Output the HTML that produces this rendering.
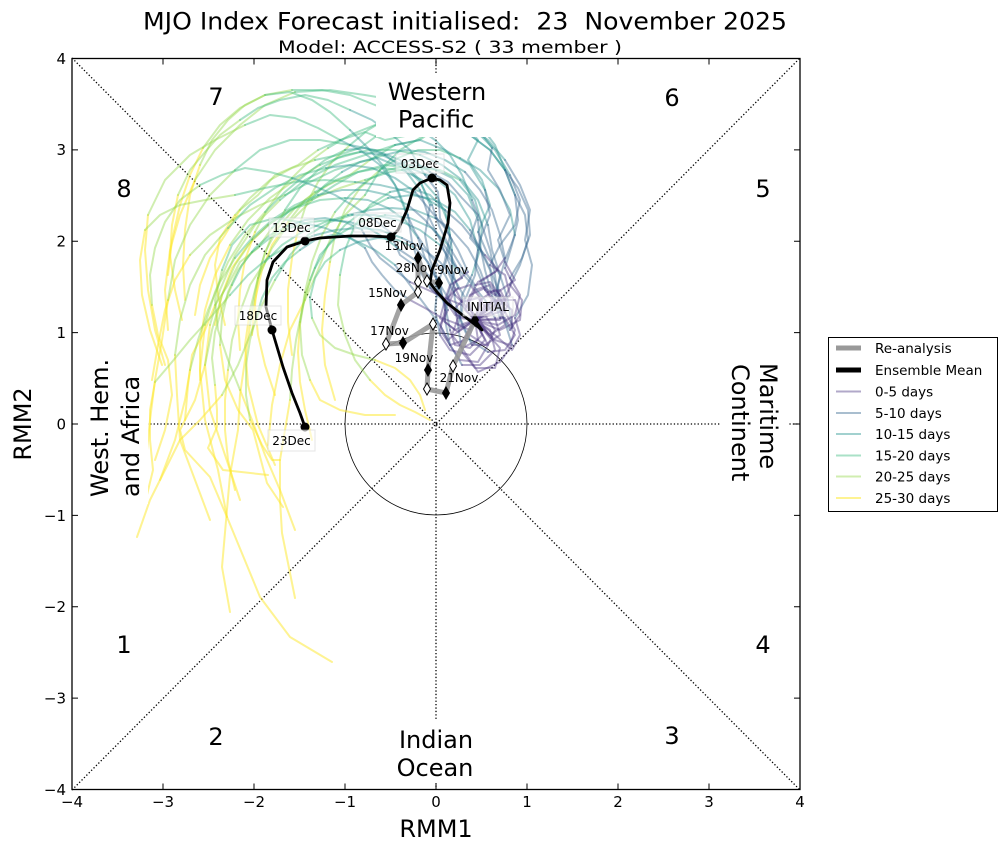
<!DOCTYPE html>
<html><head><meta charset="utf-8"><style>
html,body{margin:0;padding:0;background:#fff;}
svg{display:block;font-family:"DejaVu Sans","Liberation Sans",sans-serif;}
.p polyline,.b polyline,.t polyline,.m polyline,.g polyline,.y polyline{fill:none;stroke-width:2;stroke-opacity:0.42;stroke-linejoin:round;stroke-linecap:round}
.p polyline{stroke:#46307e}
.b polyline{stroke:#31638d}
.t polyline{stroke:#21918c}
.m polyline{stroke:#35b779}
.g polyline{stroke:#90d743}
.y polyline{stroke:#fde725;stroke-opacity:0.5}
.dl{font-size:12px;fill:#000}
.lb{fill:#fff;fill-opacity:0.55;stroke:#ccc;stroke-opacity:0.5;stroke-width:1}
</style></head><body>
<svg width="1006" height="850" viewBox="0 0 1006 850" xmlns="http://www.w3.org/2000/svg">
<rect x="0" y="0" width="1006" height="850" fill="#fff"/>
<!-- titles -->
<text x="465" y="29.5" font-size="24" text-anchor="middle" textLength="644" lengthAdjust="spacingAndGlyphs" style="white-space:pre">MJO Index Forecast initialised:  23  November 2025</text>
<text x="450" y="53" font-size="17" text-anchor="middle" textLength="344" lengthAdjust="spacingAndGlyphs" style="white-space:pre">Model: ACCESS-S2 ( 33 member )</text>

<!-- dotted guides -->
<g stroke="#000" stroke-width="1.3" stroke-dasharray="1.3 2.1" fill="none">
<line x1="72" y1="58" x2="800" y2="790"/>
<line x1="72" y1="790" x2="800" y2="58"/>
<line x1="72" y1="424" x2="800" y2="424"/>
<line x1="436" y1="58" x2="436" y2="790"/>
</g>
<circle cx="436" cy="424" r="91" fill="none" stroke="#000" stroke-width="0.8"/>

<!-- spaghetti -->
<g class="y">
<polyline points="210,325 205,365 210,410 225,455 240,500"/>
<polyline points="168,300 162,340 155,380 150,420 145,470"/>
<polyline points="195,180 180,215 170,250 165,290 168,330"/>
<polyline points="240,390 252,420 265,455 280,490 295,530"/>
<polyline points="305,300 290,330 280,365 272,405 268,445"/>
<polyline points="175,355 177,395 180,440 195,480 210,520"/>
<polyline points="250,310 245,345 248,385 258,425 275,465"/>
<polyline points="190,255 175,280 165,310 158,345 152,380"/>
<polyline points="148,215 145,250 148,290 155,330 165,365"/>
<polyline points="222,395 200,420 180,440 165,470 150,500 137,537"/>
<polyline points="205,325 200,370 205,420 218,470 227,517"/>
<polyline points="330,262 325,295 322,330 325,365 335,400"/>
<polyline points="370,380 385,395 400,405 415,412 430,420"/>
<polyline points="268,225 248,245 232,268 222,295 215,325"/>
<polyline points="200,165 190,195 185,230 183,265 185,300"/>
<polyline points="230,245 215,275 205,310 200,345 200,380"/>
<polyline points="145,230 140,260 142,295 150,330 162,365"/>
<polyline points="290,400 285,430 280,460 280,500 282,533 295,598"/>
<polyline points="205,365 195,400 180,430 185,450 210,477 227,517 260,597 290,637 332,662"/>
<polyline points="250,325 245,360 240,395 238,430 230,475 222,567 230,612"/>
<polyline points="215,385 217,410 217,427 208,448 223,470 268,475"/>
<polyline points="255,232 245,260 240,290 238,320 240,350"/>
<polyline points="220,345 225,380 238,410 253,430 267,483 283,507"/>
<polyline points="300,322 298,352 300,382 305,410 312,440"/>
<polyline points="258,278 255,305 258,335 265,365 275,395"/>
<polyline points="203,148 190,175 180,205 172,240 168,275"/>
<polyline points="190,370 185,400 180,420 175,440 160,480"/>
<polyline points="310,380 320,400 340,410 365,415 395,415"/>
<polyline points="155,382 150,410 150,440 153,470 145,503"/>
<polyline points="298,230 292,258 288,290 288,322 292,355"/>
<polyline points="250,420 255,430 262,445 272,460 280,460"/>
<polyline points="375,360 395,368 410,380 420,395 425,410"/>
<polyline points="228,370 225,400 225,430 228,460 235,490"/>
<polyline points="240,210 225,235 210,258 200,285 195,315"/>
<polyline points="288,222 272,245 262,270 255,300 252,335"/>
<polyline points="152,305 158,335 168,360 172,395 165,430 155,460"/>
<polyline points="215,305 205,330 192,355 188,385 185,420"/>
<polyline points="178,195 172,225 170,255 175,290 182,320"/>
<polyline points="235,215 220,238 215,265 218,295 225,325"/>
</g>
<g class="g">
<polyline points="280,200 255,225 235,255 220,290 210,325"/>
<polyline points="235,170 210,195 190,225 175,260 168,300"/>
<polyline points="295,92 265,105 240,125 215,150 195,180"/>
<polyline points="222,270 215,300 218,330 228,360 240,390"/>
<polyline points="365,195 345,215 330,240 318,270 305,300"/>
<polyline points="228,228 205,255 190,285 180,320 175,355"/>
<polyline points="312,200 290,222 272,248 258,278 250,310"/>
<polyline points="285,195 260,205 235,218 210,235 190,255"/>
<polyline points="245,125 215,140 190,155 165,180 148,215"/>
<polyline points="275,280 262,305 250,335 238,365 222,395"/>
<polyline points="265,212 245,235 228,262 215,292 205,325"/>
<polyline points="380,170 360,188 345,210 335,235 330,262"/>
<polyline points="340,275 338,305 345,335 355,360 370,380"/>
<polyline points="365,180 340,188 315,198 290,210 268,225"/>
<polyline points="265,95 245,105 228,120 212,140 200,165"/>
<polyline points="320,165 295,180 270,198 248,220 230,245"/>
<polyline points="235,195 205,200 180,205 160,215 145,230"/>
<polyline points="310,280 302,310 296,340 292,370 290,400"/>
<polyline points="252,240 235,265 222,295 212,330 205,365"/>
<polyline points="285,210 272,235 262,262 255,292 250,325"/>
<polyline points="232,285 222,308 215,332 212,358 215,385"/>
<polyline points="328,148 305,165 285,185 268,208 255,232"/>
<polyline points="252,252 238,270 228,292 222,318 220,345"/>
<polyline points="335,212 322,235 312,262 305,292 300,322"/>
<polyline points="315,192 295,208 278,228 265,252 258,278"/>
<polyline points="292,90 265,95 240,108 220,125 203,148"/>
<polyline points="235,258 220,282 208,310 198,340 190,370"/>
<polyline points="315,268 305,295 300,325 302,355 310,380"/>
<polyline points="230,295 210,318 190,340 172,362 155,382"/>
<polyline points="350,145 332,162 318,182 306,205 298,230"/>
<polyline points="256,318 250,340 246,365 246,395 250,420"/>
<polyline points="312,318 320,335 335,348 355,355 375,360"/>
<polyline points="265,262 250,285 240,312 232,340 228,370"/>
<polyline points="318,150 298,165 275,175 258,195 240,210"/>
<polyline points="370,160 350,175 328,185 305,200 288,222"/>
<polyline points="200,185 180,200 165,222 155,248 150,275 152,305"/>
<polyline points="272,228 258,248 240,262 228,285 215,305"/>
<polyline points="240,120 220,135 205,152 190,170 178,195"/>
<polyline points="315,160 292,168 270,180 250,198 235,215"/>
</g>
<g class="m">
<polyline points="395,145 365,155 335,165 305,180 280,200"/>
<polyline points="350,145 320,140 290,140 260,150 235,170"/>
<polyline points="425,112 395,100 365,95 330,90 295,92"/>
<polyline points="300,222 275,218 250,225 232,245 222,270"/>
<polyline points="450,128 425,135 400,150 380,170 365,195"/>
<polyline points="326,168 300,175 275,188 250,205 228,228"/>
<polyline points="410,168 385,165 358,172 335,185 312,200"/>
<polyline points="385,155 360,162 335,170 310,182 285,195"/>
<polyline points="340,140 318,128 295,118 270,115 245,125"/>
<polyline points="352,215 330,222 308,235 290,255 275,280"/>
<polyline points="345,150 325,160 305,175 285,192 265,212"/>
<polyline points="460,158 440,150 418,150 398,158 380,170"/>
<polyline points="390,192 370,205 355,225 345,250 340,275"/>
<polyline points="460,180 440,170 415,168 390,172 365,180"/>
<polyline points="350,130 330,112 312,100 290,92 265,95"/>
<polyline points="420,155 395,150 370,150 345,155 320,165"/>
<polyline points="355,182 325,180 295,182 265,188 235,195"/>
<polyline points="385,215 360,222 338,235 320,255 310,280"/>
<polyline points="345,198 320,200 295,208 272,222 252,240"/>
<polyline points="360,152 338,158 318,170 300,188 285,210"/>
<polyline points="288,226 270,235 255,248 242,265 232,285"/>
<polyline points="425,120 400,120 375,125 350,135 328,148"/>
<polyline points="330,220 310,222 290,228 270,238 252,252"/>
<polyline points="410,165 388,170 368,180 350,195 335,212"/>
<polyline points="402,170 380,168 358,172 336,180 315,192"/>
<polyline points="418,128 398,115 375,105 350,95 322,90 292,90"/>
<polyline points="318,195 295,205 272,220 252,238 235,258"/>
<polyline points="388,198 365,210 345,225 328,245 315,268"/>
<polyline points="312,236 290,245 268,258 248,275 230,295"/>
<polyline points="438,108 412,110 388,118 368,130 350,145"/>
<polyline points="300,250 285,262 272,278 262,298 256,318"/>
<polyline points="340,250 325,262 315,278 310,298 312,318"/>
<polyline points="348,215 325,222 302,232 282,245 265,262"/>
<polyline points="410,135 385,140 365,132 340,140 318,150"/>
<polyline points="462,120 440,125 420,140 395,145 370,160"/>
<polyline points="292,178 270,172 245,168 222,175 200,185"/>
<polyline points="342,172 325,185 310,200 290,210 272,228"/>
<polyline points="350,110 328,100 305,95 280,100 258,108 240,120"/>
<polyline points="400,125 378,135 360,148 338,155 315,160"/>
</g>
<g class="t">
<polyline points="485,190 470,165 445,150 420,140 395,145"/>
<polyline points="430,205 420,180 400,160 375,150 350,145"/>
<polyline points="510,175 495,150 475,130 450,118 425,112"/>
<polyline points="395,265 375,250 350,238 325,228 300,222"/>
<polyline points="515,195 505,170 490,150 470,135 450,128"/>
<polyline points="415,192 395,178 372,168 350,165 326,168"/>
<polyline points="478,250 470,220 455,195 435,178 410,168"/>
<polyline points="465,172 445,160 425,152 405,150 385,155"/>
<polyline points="405,210 395,185 380,165 360,150 340,140"/>
<polyline points="440,245 420,230 398,220 375,215 352,215"/>
<polyline points="420,190 405,170 385,155 365,148 345,150"/>
<polyline points="515,235 510,210 498,188 480,170 460,158"/>
<polyline points="450,235 445,210 430,195 410,188 390,192"/>
<polyline points="472,275 480,250 482,225 475,200 460,180"/>
<polyline points="408,215 398,190 385,168 368,148 350,130"/>
<polyline points="488,225 478,200 462,180 442,165 420,155"/>
<polyline points="445,210 425,198 402,190 380,185 355,182"/>
<polyline points="455,270 448,245 432,228 410,218 385,215"/>
<polyline points="418,238 405,220 388,208 368,200 345,198"/>
<polyline points="432,205 420,182 403,165 382,155 360,152"/>
<polyline points="362,230 345,222 325,218 305,220 288,226"/>
<polyline points="505,170 490,150 470,135 448,125 425,120"/>
<polyline points="400,250 385,238 368,228 350,222 330,220"/>
<polyline points="478,220 468,195 452,178 432,168 410,165"/>
<polyline points="452,250 448,222 438,198 422,180 402,170"/>
<polyline points="472,200 462,175 450,155 435,140 418,128"/>
<polyline points="408,205 388,195 365,190 342,190 318,195"/>
<polyline points="470,230 455,212 435,200 412,195 388,198"/>
<polyline points="402,238 380,230 358,228 335,230 312,236"/>
<polyline points="505,170 495,145 480,125 460,112 438,108"/>
<polyline points="365,248 350,238 332,235 315,240 300,250"/>
<polyline points="415,248 398,240 378,238 358,242 340,250"/>
<polyline points="435,218 415,210 392,208 370,210 348,215"/>
<polyline points="505,160 488,140 470,128 452,135 430,128 410,135"/>
<polyline points="478,232 490,205 482,180 468,160 478,140 462,120"/>
<polyline points="372,218 352,205 335,195 312,185 292,178"/>
<polyline points="430,172 412,160 395,165 378,158 360,162 342,172"/>
<polyline points="425,175 410,150 392,135 372,120 350,110"/>
<polyline points="492,148 478,128 460,115 440,108 418,115 400,125"/>
</g>
<g class="b">
<polyline points="485,290 475,265 480,240 490,215 485,190"/>
<polyline points="445,310 440,285 430,260 425,235 430,205"/>
<polyline points="490,265 500,245 515,225 520,200 510,175"/>
<polyline points="450,345 440,325 425,305 410,285 395,265"/>
<polyline points="510,285 520,265 528,240 525,215 515,195"/>
<polyline points="468,272 458,250 445,228 430,210 415,192"/>
<polyline points="462,352 458,325 465,300 475,275 478,250"/>
<polyline points="505,258 500,235 492,210 480,190 465,172"/>
<polyline points="455,295 445,275 430,255 415,232 405,210"/>
<polyline points="495,318 485,300 470,282 452,262 440,245"/>
<polyline points="458,288 450,265 440,240 428,215 420,190"/>
<polyline points="510,330 500,310 498,285 505,260 515,235"/>
<polyline points="440,335 435,310 438,285 445,260 450,235"/>
<polyline points="488,352 470,340 460,318 462,295 472,275"/>
<polyline points="448,305 432,290 420,268 412,242 408,215"/>
<polyline points="512,328 508,300 500,275 492,250 488,225"/>
<polyline points="495,295 490,270 478,245 462,225 445,210"/>
<polyline points="462,365 450,345 445,320 448,295 455,270"/>
<polyline points="458,318 448,298 436,278 425,258 418,238"/>
<polyline points="475,285 462,268 450,248 440,228 432,205"/>
<polyline points="410,282 395,270 380,258 370,245 362,230"/>
<polyline points="510,278 522,258 530,235 528,210 518,188 505,170"/>
<polyline points="448,310 440,292 428,275 415,260 400,250"/>
<polyline points="500,318 492,295 485,270 480,245 478,220"/>
<polyline points="472,345 462,325 455,300 452,275 452,250"/>
<polyline points="498,298 495,275 490,250 482,225 472,200"/>
<polyline points="462,278 452,258 440,238 425,220 408,205"/>
<polyline points="505,312 498,290 490,268 480,248 470,230"/>
<polyline points="465,298 455,280 440,262 422,248 402,238"/>
<polyline points="505,268 512,245 518,220 515,195 505,170"/>
<polyline points="410,300 395,290 382,275 372,262 365,248"/>
<polyline points="450,330 445,305 438,282 428,262 415,248"/>
<polyline points="488,292 480,270 468,248 452,230 435,218"/>
<polyline points="515,318 528,295 532,265 525,240 530,210 520,185 505,160"/>
<polyline points="512,345 505,322 495,300 500,275 488,255 478,232"/>
<polyline points="430,288 418,268 400,255 390,232 372,218"/>
<polyline points="485,255 470,238 478,215 462,198 448,182 430,172"/>
<polyline points="455,288 445,265 452,240 440,218 438,192 425,175"/>
<polyline points="505,262 498,240 510,215 500,190 488,170 492,148"/>
</g>
<g class="p">
<polyline points="475,320 490,335 505,325 500,305 485,290"/>
<polyline points="475,320 465,340 450,345 440,330 445,310"/>
<polyline points="475,320 495,310 510,295 505,275 490,265"/>
<polyline points="475,320 488,345 478,362 460,360 450,345"/>
<polyline points="475,320 500,330 520,320 522,300 510,285"/>
<polyline points="475,320 460,318 448,300 455,282 468,272"/>
<polyline points="475,320 500,348 495,368 475,368 462,352"/>
<polyline points="475,320 468,300 478,282 495,272 505,258"/>
<polyline points="475,320 490,338 480,320 465,305 455,295"/>
<polyline points="475,320 470,335 485,345 500,335 495,318"/>
<polyline points="475,320 458,332 445,322 445,300 458,288"/>
<polyline points="475,320 495,300 515,300 520,315 510,330"/>
<polyline points="475,320 485,340 470,355 450,350 440,335"/>
<polyline points="475,320 505,318 515,335 505,350 488,352"/>
<polyline points="475,320 482,300 470,285 455,290 448,305"/>
<polyline points="475,320 485,305 500,300 512,310 512,328"/>
<polyline points="475,320 465,310 470,295 485,288 495,295"/>
<polyline points="475,320 490,330 495,350 480,365 462,365"/>
<polyline points="475,320 478,340 462,348 452,335 458,318"/>
<polyline points="475,320 492,312 500,295 490,282 475,285"/>
<polyline points="475,320 462,305 445,298 428,290 410,282"/>
<polyline points="475,320 498,325 515,315 520,295 510,278"/>
<polyline points="475,320 460,330 448,340 440,325 448,310"/>
<polyline points="475,320 480,300 495,290 505,300 500,318"/>
<polyline points="475,320 485,315 495,330 488,345 472,345"/>
<polyline points="475,320 468,305 475,290 490,285 498,298"/>
<polyline points="475,320 455,315 445,300 450,285 462,278"/>
<polyline points="475,320 495,340 510,345 515,330 505,312"/>
<polyline points="475,320 470,330 458,325 455,308 465,298"/>
<polyline points="475,320 490,308 505,298 512,282 505,268"/>
<polyline points="475,320 460,325 442,318 425,308 410,300"/>
<polyline points="475,320 482,335 470,348 455,345 450,330"/>
<polyline points="475,320 500,320 508,305 500,290 488,292"/>
<polyline points="475,320 495,335 512,350 520,335 515,318"/>
<polyline points="475,320 460,345 478,372 500,362 512,345"/>
<polyline points="475,320 455,330 440,318 445,300 430,288"/>
<polyline points="475,320 492,300 480,282 498,270 485,255"/>
<polyline points="475,320 488,310 478,298 462,302 455,288"/>
<polyline points="475,320 505,310 498,292 515,280 505,262"/>
</g>

<!-- re-analysis -->
<polyline points="439,283 427,281 418,258 418,282 418,292 401,305 386,344 403,343 433,324 428,370 427,389 446,393 453,366 475,320" fill="none" stroke="#999" stroke-width="5" stroke-linejoin="round" stroke-opacity="0.9"/>
<!-- ensemble mean -->
<polyline points="475,320 482,330 473,323 460,313 447,303 437,292 430,283 432,270 440,250 448,223 450,203 447,185 440,180 432,178 420,183 413,190 407,210 398,230 391,237 370,236 350,236 320,238 305,241 287,247 273,262 267,280 266,307 272,330 283,367 292,393 300,413 305,427" fill="none" stroke="#000" stroke-width="2.8" stroke-linejoin="round" stroke-linecap="round"/>
<g fill="#000">
<circle cx="432" cy="178" r="4.5"/><circle cx="391" cy="237" r="4.5"/><circle cx="305" cy="241" r="4.5"/><circle cx="272" cy="330" r="4.5"/><circle cx="305" cy="427" r="4.5"/>
</g>
<!-- diamonds -->
<g stroke="#000" stroke-width="1">
<polygon fill="#000" points="439,277 442.5,283 439,289 435.5,283"/>
<polygon fill="#000" points="418,252 421.5,258 418,264 414.5,258"/>
<polygon fill="#000" points="401,299 404.5,305 401,311 397.5,305"/>
<polygon fill="#000" points="403,337 406.5,343 403,349 399.5,343"/>
<polygon fill="#000" points="428,364 431.5,370 428,376 424.5,370"/>
<polygon fill="#000" points="446,387 449.5,393 446,399 442.5,393"/>
<polygon fill="#000" points="475,314 478.5,320 475,326 471.5,320"/>
<polygon fill="#fff" points="427,275 430.5,281 427,287 423.5,281"/>
<polygon fill="#fff" points="418,276 421.5,282 418,288 414.5,282"/>
<polygon fill="#fff" points="418,286 421.5,292 418,298 414.5,292"/>
<polygon fill="#fff" points="386,338 389.5,344 386,350 382.5,344"/>
<polygon fill="#fff" points="433,318 436.5,324 433,330 429.5,324"/>
<polygon fill="#fff" points="427,383 430.5,389 427,395 423.5,389"/>
<polygon fill="#fff" points="453,360 456.5,366 453,372 449.5,366"/>
</g>
<!-- date labels -->
<rect class="lb" x="396" y="154" width="48" height="19"/><text class="dl" x="420" y="168" text-anchor="middle">03Dec</text>
<rect class="lb" x="354" y="213" width="47" height="19"/><text class="dl" x="377.5" y="227" text-anchor="middle">08Dec</text>
<rect class="lb" x="269" y="218" width="45" height="19"/><text class="dl" x="291.5" y="232" text-anchor="middle">13Dec</text>
<rect class="lb" x="235" y="306" width="46" height="19"/><text class="dl" x="258" y="320" text-anchor="middle">18Dec</text>
<rect class="lb" x="268" y="430" width="47" height="21"/><text class="dl" x="291.5" y="445" text-anchor="middle">23Dec</text>
<text class="dl" x="404" y="250" text-anchor="middle">13Nov</text>
<text class="dl" x="415" y="272" text-anchor="middle">28Nov</text>
<text class="dl" x="452.5" y="274" text-anchor="middle">9Nov</text>
<text class="dl" x="387.5" y="297" text-anchor="middle">15Nov</text>
<rect class="lb" x="463" y="297" width="50" height="19"/><text class="dl" x="488" y="311" text-anchor="middle">INITIAL</text>
<text class="dl" x="389.5" y="335" text-anchor="middle">17Nov</text>
<text class="dl" x="414" y="362" text-anchor="middle">19Nov</text>
<text class="dl" x="459" y="382" text-anchor="middle">21Nov</text>

<!-- region labels with white bbox -->
<rect x="376" y="74" width="122" height="63" fill="#fff"/>
<text x="437" y="100" font-size="24" text-anchor="middle">Western</text>
<text x="436" y="127.5" font-size="24" text-anchor="middle">Pacific</text>
<rect x="387" y="719" width="99" height="64" fill="#fff"/>
<text x="436" y="748" font-size="24" text-anchor="middle">Indian</text>
<text x="435" y="776" font-size="24" text-anchor="middle">Ocean</text>
<rect x="73" y="348" width="75" height="156" fill="#fff"/>
<text transform="translate(108,497) rotate(-90)" font-size="24">West. Hem.</text>
<text transform="translate(139,497) rotate(-90)" font-size="24">and Africa</text>
<rect x="721" y="355" width="67" height="136" fill="#fff"/>
<text transform="translate(760,363) rotate(90)" font-size="24">Maritime</text>
<text transform="translate(732,364) rotate(90)" font-size="24">Continent</text>

<!-- phase numbers -->
<g font-size="24" text-anchor="middle">
<text x="216" y="105">7</text><text x="672" y="106">6</text>
<text x="124" y="197">8</text><text x="763" y="197">5</text>
<text x="124" y="653">1</text><text x="763" y="653">4</text>
<text x="216" y="745">2</text><text x="672" y="744">3</text>
</g>

<!-- axes frame and ticks -->
<rect x="72" y="58.5" width="728" height="731" fill="none" stroke="#000" stroke-width="1.3"/>
<g stroke="#000" stroke-width="1">
<path d="M72,789.5v-6M163,789.5v-6M254,789.5v-6M345,789.5v-6M436,789.5v-6M527,789.5v-6M618,789.5v-6M709,789.5v-6M800,789.5v-6"/>
<path d="M72,58.5v6M163,58.5v6M254,58.5v6M345,58.5v6M436,58.5v6M527,58.5v6M618,58.5v6M709,58.5v6M800,58.5v6"/>
<path d="M72,58.5h6M72,149.9h6M72,241.2h6M72,332.6h6M72,424h6M72,515.4h6M72,606.8h6M72,698.1h6M72,789.5h6"/>
<path d="M800,58.5h-6M800,149.9h-6M800,241.2h-6M800,332.6h-6M800,424h-6M800,515.4h-6M800,606.8h-6M800,698.1h-6M800,789.5h-6"/>
</g>
<g font-size="15" text-anchor="middle">
<text x="72" y="807">−4</text><text x="163" y="807">−3</text><text x="254" y="807">−2</text><text x="345" y="807">−1</text><text x="436" y="807">0</text><text x="527" y="807">1</text><text x="618" y="807">2</text><text x="709" y="807">3</text><text x="800" y="807">4</text>
</g>
<g font-size="15" text-anchor="end">
<text x="66" y="64">4</text><text x="66" y="155">3</text><text x="66" y="246.5">2</text><text x="66" y="338">1</text><text x="66" y="429.5">0</text><text x="66" y="521">−1</text><text x="66" y="612">−2</text><text x="66" y="703.5">−3</text><text x="66" y="795">−4</text>
</g>
<text x="436" y="837" font-size="24" text-anchor="middle">RMM1</text>
<text transform="translate(31,424) rotate(-90)" font-size="24" text-anchor="middle">RMM2</text>

<!-- legend -->
<rect x="828.5" y="337.5" width="169" height="174" fill="#fff" stroke="#000" stroke-width="1"/>
<line x1="836" y1="348" x2="861" y2="348" stroke="#999" stroke-width="5"/>
<line x1="836" y1="370" x2="861" y2="370" stroke="#000" stroke-width="5"/>
<line x1="836" y1="391.5" x2="861" y2="391.5" stroke="#46307e" stroke-opacity="0.42" stroke-width="2"/>
<line x1="836" y1="413" x2="861" y2="413" stroke="#31638d" stroke-opacity="0.42" stroke-width="2"/>
<line x1="836" y1="434" x2="861" y2="434" stroke="#21918c" stroke-opacity="0.42" stroke-width="2"/>
<line x1="836" y1="455.5" x2="861" y2="455.5" stroke="#35b779" stroke-opacity="0.42" stroke-width="2"/>
<line x1="836" y1="476.5" x2="861" y2="476.5" stroke="#90d743" stroke-opacity="0.42" stroke-width="2"/>
<line x1="836" y1="498" x2="861" y2="498" stroke="#fde725" stroke-opacity="0.5" stroke-width="2"/>
<g font-size="13.5">
<text x="875" y="353">Re-analysis</text>
<text x="875" y="375">Ensemble Mean</text>
<text x="875" y="396.5">0-5 days</text>
<text x="875" y="418">5-10 days</text>
<text x="875" y="439">10-15 days</text>
<text x="875" y="460.5">15-20 days</text>
<text x="875" y="481.5">20-25 days</text>
<text x="875" y="503">25-30 days</text>
</g>
</svg>
</body></html>
